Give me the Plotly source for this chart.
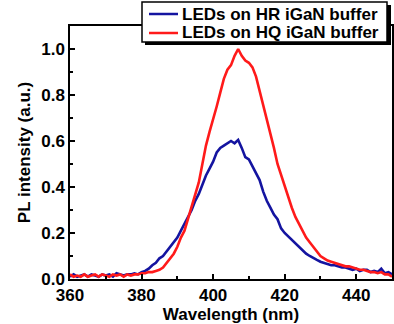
import plotly.graph_objects as go

wavelength = list(range(360, 451))

hr_intensity = [
    0.010, 0.020, 0.010, 0.015, 0.020, 0.010, 0.020, 0.015, 0.010, 0.020,
    0.015, 0.020, 0.010, 0.025, 0.020, 0.015, 0.020, 0.020, 0.025, 0.020,
    0.030, 0.035, 0.045, 0.060, 0.070, 0.090, 0.100, 0.120, 0.140, 0.160,
    0.180, 0.210, 0.240, 0.270, 0.300, 0.340, 0.370, 0.410, 0.450, 0.480,
    0.510, 0.550, 0.570, 0.580, 0.590, 0.600, 0.590, 0.605, 0.570, 0.530,
    0.520, 0.490, 0.460, 0.430, 0.380, 0.340, 0.310, 0.280, 0.260, 0.220,
    0.200, 0.185, 0.170, 0.155, 0.140, 0.125, 0.110, 0.100, 0.090, 0.083,
    0.075, 0.070, 0.065, 0.060, 0.060, 0.055, 0.050, 0.050, 0.045, 0.040,
    0.045, 0.035, 0.040, 0.040, 0.030, 0.035, 0.030, 0.045, 0.025, 0.030,
    0.020,
]

hq_intensity = [
    0.020, 0.010, 0.015, 0.010, 0.020, 0.010, 0.015, 0.020, 0.010, 0.020,
    0.015, 0.010, 0.020, 0.015, 0.020, 0.010, 0.020, 0.015, 0.020, 0.020,
    0.025, 0.025, 0.030, 0.030, 0.035, 0.040, 0.050, 0.070, 0.090, 0.110,
    0.140, 0.180, 0.210, 0.260, 0.310, 0.360, 0.420, 0.500, 0.580, 0.640,
    0.690, 0.750, 0.810, 0.870, 0.910, 0.930, 0.970, 1.000, 0.970, 0.950,
    0.940, 0.920, 0.880, 0.820, 0.760, 0.690, 0.630, 0.570, 0.500, 0.450,
    0.400, 0.350, 0.310, 0.270, 0.240, 0.210, 0.180, 0.160, 0.140, 0.120,
    0.100, 0.090, 0.080, 0.075, 0.070, 0.065, 0.060, 0.055, 0.055, 0.050,
    0.045, 0.040, 0.040, 0.035, 0.030, 0.030, 0.025, 0.030, 0.020, 0.020,
    0.010,
]

series_names = ["LEDs on HR iGaN buffer", "LEDs on HQ iGaN buffer"]
series_colors = ["#1414a0", "#ff1a1a"]
x_ticks = [360, 380, 400, 420, 440]
y_ticks = [0.0, 0.2, 0.4, 0.6, 0.8, 1.0]

FONT = "Arial, Liberation Sans, sans-serif"
W, H = 394, 324
ML, MR, MT, MB = 70, 2, 26, 45

fig = go.Figure()
for name, ys, col in zip(series_names, [hr_intensity, hq_intensity], series_colors):
    fig.add_trace(go.Scatter(x=wavelength, y=ys, mode="lines", name=name,
                             line=dict(color=col, width=2.6), showlegend=False))

axis_common = dict(showline=True, linecolor="black", linewidth=1.5,
                   mirror=True, ticks="inside", ticklen=5, tickwidth=1.5,
                   tickcolor="black", showgrid=False, zeroline=False,
                   automargin=False,
                   tickfont=dict(family=FONT, size=17, color="black", weight="bold"))

fig.update_xaxes(range=[360, 450], tickvals=x_ticks,
                 ticktext=[str(v) for v in x_ticks],
                 minor=dict(ticks="inside", dtick=10, ticklen=3, tickwidth=1.5,
                            tickcolor="black"),
                 title=dict(text="Wavelength (nm)", standoff=0,
                            font=dict(family=FONT, size=17, color="black", weight="bold")),
                 **axis_common)
fig.update_yaxes(range=[0, 1.1], tickvals=y_ticks,
                 ticktext=[f"{v:.1f}" for v in y_ticks],
                 minor=dict(ticks="inside", dtick=0.1, ticklen=3, tickwidth=1.5,
                            tickcolor="black"),
                 title=dict(text="PL intensity (a.u.)", standoff=6,
                            font=dict(family=FONT, size=17, color="black", weight="bold")),
                 **axis_common)

# ---- legend box (styled like the original: framed, with drop shadow) ----
def px(xp):
    return (xp - ML) / (W - ML - MR)

def py(yp):
    return (H - MB - yp) / (H - MT - MB)

fig.add_shape(type="rect", xref="paper", yref="paper",
              x0=px(145), x1=px(391), y0=py(45), y1=py(5),
              fillcolor="black", line=dict(width=0), layer="above")
fig.add_shape(type="rect", xref="paper", yref="paper",
              x0=px(142), x1=px(387), y0=py(42), y1=py(2),
              fillcolor="white", line=dict(color="black", width=1.5), layer="above")
for i, (name, col) in enumerate(zip(series_names, series_colors)):
    yc = 14 + 19 * i
    fig.add_shape(type="line", xref="paper", yref="paper",
                  x0=px(149), x1=px(178), y0=py(yc), y1=py(yc),
                  line=dict(color=col, width=2.5), layer="above")
    fig.add_annotation(xref="paper", yref="paper", x=px(181), y=py(yc),
                       xanchor="left", yanchor="middle", showarrow=False,
                       text=name, borderpad=0,
                       font=dict(family=FONT, size=17, color="black", weight="bold"))

fig.update_layout(
    width=W, height=H,
    margin=dict(l=ML, r=MR, t=MT, b=MB, autoexpand=False),
    paper_bgcolor="white", plot_bgcolor="white",
    showlegend=False,
)

fig.write_html("out.html", config={"displayModeBar": False},
               post_script="document.body.style.margin='0';")
